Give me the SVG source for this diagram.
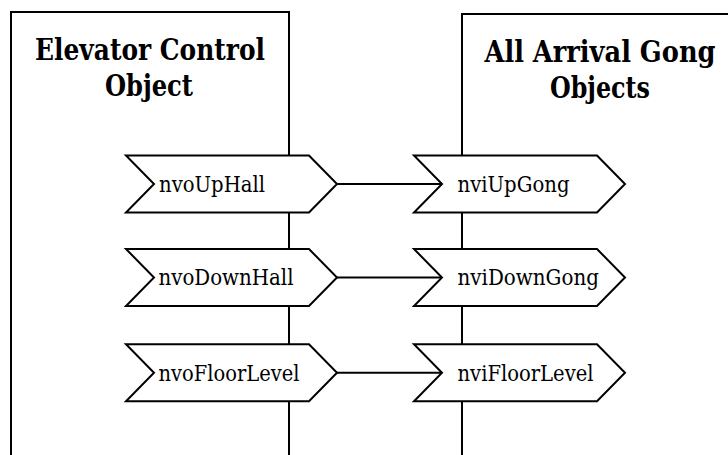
<svg xmlns="http://www.w3.org/2000/svg" width="728" height="455" viewBox="0 0 728 455">
  <style>
    .frame { fill: none; stroke: #000; stroke-width: 2; }
    .port { fill: #fff; stroke: #000; stroke-width: 2; stroke-linejoin: miter; }
    .wire { stroke: #000; stroke-width: 2; fill: none; }
    .title { font-family: 'DejaVu Serif', 'Liberation Serif', serif; font-weight: bold; font-size: 29px; text-anchor: middle; fill: #000; }
    .label { font-family: 'DejaVu Serif', 'Liberation Serif', serif; font-size: 22px; fill: #000; }
  </style>
  <defs>
    <!-- chevron-shaped network variable port, origin at the left notch -->
    <path id="chev" d="M-28,-28.5 H155 L183,0 L155,28.5 H-28 L0,0 Z"/>
  </defs>
  <rect width="728" height="455" fill="#fff"/>

  <!-- object outlines (open at the bottom) -->
  <g id="elevator-control">
    <path class="frame" d="M11,456 V12 H289 V456"/>
    <text class="title" x="150" y="60" textLength="230" lengthAdjust="spacingAndGlyphs">Elevator Control</text>
    <text class="title" x="149" y="96" textLength="88" lengthAdjust="spacingAndGlyphs">Object</text>
  </g>
  <g id="arrival-gong">
    <path class="frame" d="M462,456 V14 H740 V456"/>
    <text class="title" x="600" y="62" textLength="231" lengthAdjust="spacingAndGlyphs">All Arrival Gong</text>
    <text class="title" x="600" y="98" textLength="100" lengthAdjust="spacingAndGlyphs">Objects</text>
  </g>

  <!-- bindings -->
  <g id="connectors">
    <line class="wire" x1="337" y1="184" x2="442" y2="184"/>
    <line class="wire" x1="337" y1="277.5" x2="442" y2="277.5"/>
    <line class="wire" x1="337" y1="372.7" x2="442" y2="372.7"/>
  </g>

  <!-- output variables -->
  <g id="nvoUpHall">
    <use class="port" href="#chev" x="154" y="184"/>
    <text class="label" x="159" y="192" textLength="106" lengthAdjust="spacingAndGlyphs">nvoUpHall</text>
  </g>
  <g id="nvoDownHall">
    <use class="port" href="#chev" x="154" y="277.5"/>
    <text class="label" x="158.5" y="285" textLength="135" lengthAdjust="spacingAndGlyphs">nvoDownHall</text>
  </g>
  <g id="nvoFloorLevel">
    <use class="port" href="#chev" x="154" y="372.7"/>
    <text class="label" x="158.5" y="380.5" textLength="141" lengthAdjust="spacingAndGlyphs">nvoFloorLevel</text>
  </g>

  <!-- input variables -->
  <g id="nviUpGong">
    <use class="port" href="#chev" x="442" y="184"/>
    <text class="label" x="457.5" y="192" textLength="112" lengthAdjust="spacingAndGlyphs">nviUpGong</text>
  </g>
  <g id="nviDownGong">
    <use class="port" href="#chev" x="442" y="277.5"/>
    <text class="label" x="457.5" y="285" textLength="141.5" lengthAdjust="spacingAndGlyphs">nviDownGong</text>
  </g>
  <g id="nviFloorLevel">
    <use class="port" href="#chev" x="442" y="372.7"/>
    <text class="label" x="457.5" y="380.5" textLength="136" lengthAdjust="spacingAndGlyphs">nviFloorLevel</text>
  </g>
</svg>
